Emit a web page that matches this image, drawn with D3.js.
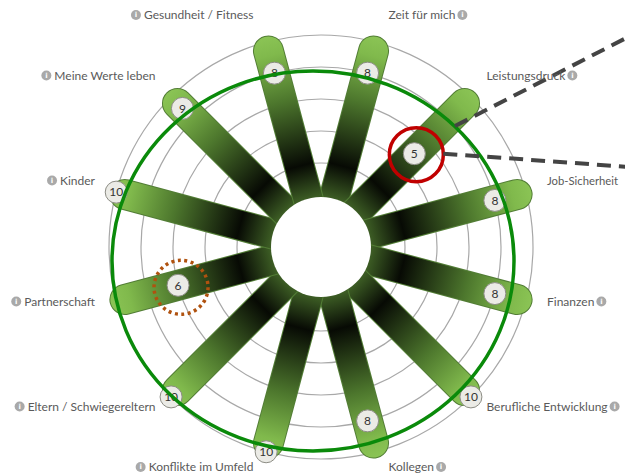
<!DOCTYPE html>
<html>
<head>
<meta charset="utf-8">
<script src="https://cdn.jsdelivr.net/npm/d3@7"></script>
<style>
  body { margin: 0; background: #fff; }
  svg { display: block; }
  .lbl { font-family: Lato, "Open Sans", sans-serif; font-size: 12px; fill: #5a5a5a; }
  .val { font-family: Lato, "Open Sans", sans-serif; font-size: 12px; fill: #333; }
</style>
</head>
<body>
<svg id="vis" width="625" height="473"></svg>
<script>
// categories clockwise, starting right of 12 o'clock
var categories = ["Zeit für mich", "Leistungsdruck", "Job-Sicherheit", "Finanzen",
  "Berufliche Entwicklung", "Kollegen", "Konflikte im Umfeld", "Eltern / Schwiegereltern",
  "Partnerschaft", "Kinder", "Meine Werte leben", "Gesundheit / Fitness"]
var values = [8, 5, 8, 8, 10, 8, 10, 10, 6, 10, 9, 8]
var ringTicks = [2, 4, 6, 8, 10]
var maxValue = 10
var highlightRed = "Leistungsdruck"
var highlightBrown = "Partnerschaft"

var svg = d3.select("#vis")
var W = 625
var cx = 321, cy = 247
var innerR = 50

var r = d3.scaleLinear().domain([0, maxValue]).range([52, 212])
var ang = d3.scaleBand().domain(categories).range([0, 2 * Math.PI])
function angle(c) { return ang(c) + ang.bandwidth() / 2 }
function pt(a, rad) { return [cx + rad * Math.sin(a), cy - rad * Math.cos(a)] }
var barEnd = r(maxValue) - 9

var g = svg.append("g")

// rings
g.selectAll("circle.ring").data(ringTicks).enter().append("circle")
    .attr("class", "ring")
    .attr("cx", cx).attr("cy", cy)
    .attr("r", d => r(d))
    .style("fill", "none")
    .style("stroke", "#a8a8a8")
    .style("stroke-width", 1.2)

// gradients per bar
var defs = svg.append("defs")
categories.forEach(function(c, i) {
    var a = angle(c)
    var p0 = pt(a, innerR), p1 = pt(a, barEnd + 15)
    var grad = defs.append("linearGradient")
        .attr("id", "grad" + i)
        .attr("gradientUnits", "userSpaceOnUse")
        .attr("x1", p0[0]).attr("y1", p0[1])
        .attr("x2", p1[0]).attr("y2", p1[1])
    grad.append("stop").attr("offset", 0).attr("stop-color", "#3c5c24")
    grad.append("stop").attr("offset", 0.2).attr("stop-color", "#070a04")
    grad.append("stop").attr("offset", 0.6).attr("stop-color", "#4d772d")
    grad.append("stop").attr("offset", 0.88).attr("stop-color", "#80b94c")
    grad.append("stop").attr("offset", 1).attr("stop-color", "#8bc455")
})

var bars = g.selectAll("g.bar").data(categories).enter().append("g").attr("class", "bar")
bars.append("line")
    .attr("x1", cx).attr("y1", cy)
    .attr("x2", d => pt(angle(d), barEnd)[0])
    .attr("y2", d => pt(angle(d), barEnd)[1])
    .style("stroke", "#527d35")
    .style("stroke-width", 31)
    .style("stroke-linecap", "round")
bars.append("line")
    .attr("x1", cx).attr("y1", cy)
    .attr("x2", d => pt(angle(d), barEnd)[0])
    .attr("y2", d => pt(angle(d), barEnd)[1])
    .style("stroke", (d, i) => "url(#grad" + i + ")")
    .style("stroke-width", 29)
    .style("stroke-linecap", "round")

// hub
g.append("circle").attr("cx", cx).attr("cy", cy).attr("r", innerR).style("fill", "#fff")

// value markers
var vals = g.selectAll("g.val").data(categories).enter().append("g")
    .attr("transform", (d, i) => "translate(" + pt(angle(d), r(values[i])) + ")")
vals.append("circle").attr("r", 11)
    .style("fill", "#ebebe6").style("stroke", "#8c8c84").style("stroke-width", 1)
vals.append("text").attr("class", "val")
    .attr("text-anchor", "middle").attr("dy", "0.36em")
    .text((d, i) => values[i])

// annotations
svg.append("ellipse")
    .attr("cx", 313).attr("cy", 261).attr("rx", 201).attr("ry", 190)
    .style("fill", "none").style("stroke", "#0a8a0a").style("stroke-width", 3.5)

var iRed = categories.indexOf(highlightRed)
var pRed = pt(angle(highlightRed), r(values[iRed]))
svg.append("circle").attr("cx", pRed[0] + 2).attr("cy", pRed[1] + 1).attr("r", 27)
    .style("fill", "none").style("stroke", "#c00000").style("stroke-width", 3.5)

var iBr = categories.indexOf(highlightBrown)
var pBr = pt(angle(highlightBrown), r(values[iBr]))
svg.append("circle").attr("cx", pBr[0] + 3).attr("cy", pBr[1] + 2).attr("r", 27)
    .style("fill", "none").style("stroke", "#b0520f").style("stroke-width", 3.5)
    .style("stroke-dasharray", "3,3.5")

svg.append("line").attr("x1", 455).attr("y1", 126).attr("x2", 630).attr("y2", 36)
    .style("stroke", "#444").style("stroke-width", 4).style("stroke-dasharray", "14,8")
svg.append("line").attr("x1", pRed[0] + 29).attr("y1", pRed[1]).attr("x2", 630).attr("y2", 167)
    .style("stroke", "#444").style("stroke-width", 4).style("stroke-dasharray", "14,8")

// category labels
var labelR = 234, labelCy = cy - 6
var labels = svg.selectAll("g.lbl").data(categories).enter().append("g")
labels.each(function(c) {
    var a = angle(c)
    var s = Math.sin(a), co = Math.cos(a)
    var right = s > 0
    var x = cx + labelR * s + (Math.abs(co) > 0.9 ? (right ? 7 : -7) : 0)
    var y = labelCy - labelR * co
    var sel = d3.select(this)
    var t = sel.append("text").attr("class", "lbl")
        .attr("x", x).attr("y", y).attr("dy", "0.35em")
        .attr("text-anchor", right ? "start" : "end")
        .text(c)
    var w = t.node().getComputedTextLength()
    if (right && x + w > W - 6) {
        // squeeze to fit the frame; the info icon falls outside as in the original
        t.attr("textLength", W - 7 - x).attr("lengthAdjust", "spacingAndGlyphs")
        return
    }
    var ix = right ? x + w + 7 : x - w - 8
    sel.append("circle").attr("cx", ix).attr("cy", y).attr("r", 5).style("fill", "#a9a9a9")
    sel.append("text").attr("x", ix).attr("y", y).attr("dy", "0.35em")
        .attr("text-anchor", "middle")
        .style("font-family", "DejaVu Sans").style("font-size", "7px")
        .style("font-weight", "bold").style("fill", "#fff")
        .text("i")
})
</script>
</body>
</html>
